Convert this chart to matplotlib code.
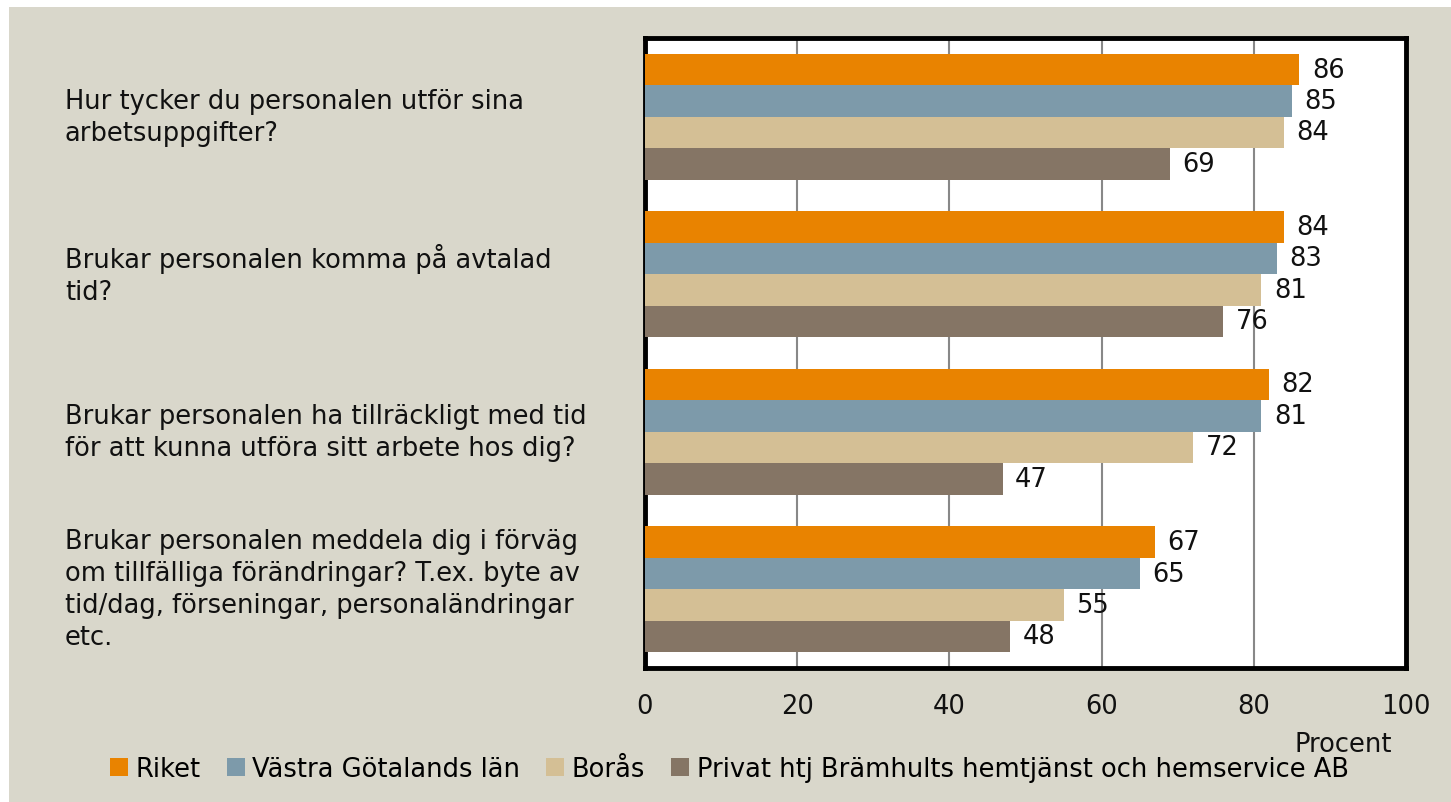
import numpy as np
import matplotlib.pyplot as plt
from matplotlib.transforms import blended_transform_factory

# data
questions = [
    "Hur tycker du personalen utför sina\narbetsuppgifter?",
    "Brukar personalen komma på avtalad\ntid?",
    "Brukar personalen ha tillräckligt med tid\nför att kunna utföra sitt arbete hos dig?",
    "Brukar personalen meddela dig i förväg\nom tillfälliga förändringar? T.ex. byte av\ntid/dag, förseningar, personaländringar\netc.",
]
series_names = ["Riket", "Västra Götalands län", "Borås",
                "Privat htj Brämhults hemtjänst och hemservice AB"]
riket = [86, 84, 82, 67]
vgl = [85, 83, 81, 65]
boras = [84, 81, 72, 55]
privat = [69, 76, 47, 48]
colors = ["#E98300", "#7D9AAA", "#D4BF95", "#857565"]

plt.rcParams['font.family'] = ['DejaVu Sans']
fontsize = 18.5

fig = plt.figure(figsize=(14.51, 8.03), dpi=100, facecolor='white')
# beige background panel
fig.patches.append(plt.Rectangle((9 / 1451, 0), 1, 1 - 8 / 803, transform=fig.transFigure,
                                 facecolor='#D9D7CB', edgecolor='none', zorder=-10))

ax = fig.add_axes([645 / 1451, 1 - 669 / 803, 761 / 1451, 630 / 803])
ax.set_facecolor('white')

y = np.arange(len(questions))
h = 0.2
all_series = [riket, vgl, boras, privat]
for k, (vals, name, c) in enumerate(zip(all_series, series_names, colors)):
    bars = ax.barh(y - 0.3 + k * h, vals, height=h, color=c, label=name, zorder=3)
    ax.bar_label(bars, padding=9, fontsize=fontsize, color='#111111')

ax.set_xlim(0, 100)
ax.set_ylim(len(questions) - 0.5, -0.5)
ax.set_xticks([0, 20, 40, 60, 80, 100])
ax.set_yticks([])
ax.tick_params(axis='x', length=0, pad=18, labelsize=fontsize, colors='#111111')
ax.grid(axis='x', color='#888888', linewidth=1.5, zorder=1)
for sp in ax.spines.values():
    sp.set_linewidth(3.5)
    sp.set_color('black')

trans = blended_transform_factory(fig.transFigure, ax.transData)
for i, q in enumerate(questions):
    ax.text(65 / 1451, i, q, transform=trans, ha='left', va='center',
            fontsize=fontsize, color='#111111', linespacing=1.3)

fig.text(1343 / 1451, 1 - 745 / 803, "Procent", ha='center', va='center',
         fontsize=fontsize, color='#111111')

fig.legend(loc='center left', bbox_to_anchor=(100 / 1451, 1 - 770 / 803), ncol=4,
           frameon=False, fontsize=fontsize, handlelength=0.7, handleheight=0.7,
           handletextpad=0.3, columnspacing=1.0, borderaxespad=0)

fig.savefig('out.png', dpi=100, facecolor='white')
